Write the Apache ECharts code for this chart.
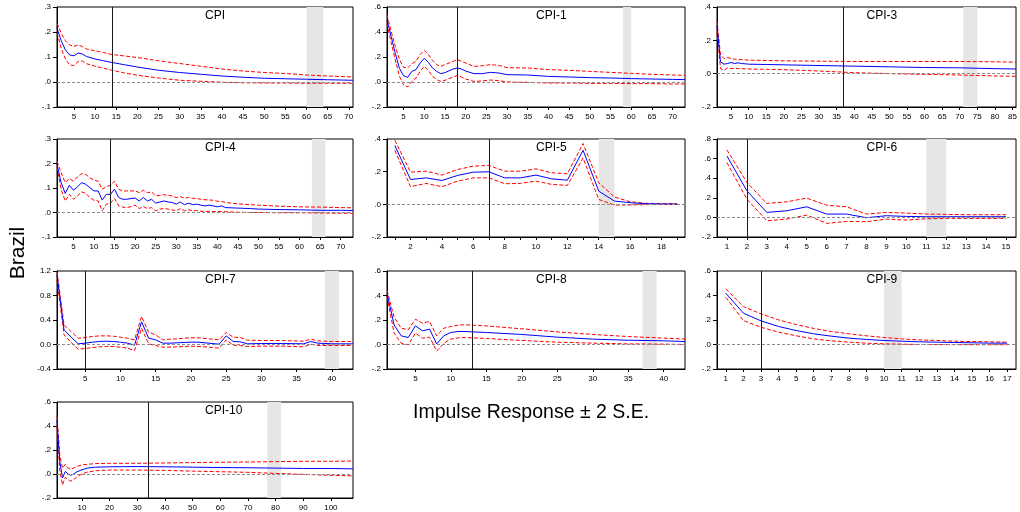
<!DOCTYPE html>
<html>
<head>
<meta charset="utf-8">
<script src="https://cdn.jsdelivr.net/npm/echarts@6/dist/echarts.min.js"></script>
<style>
  html, body { margin: 0; padding: 0; background: #fff; }
  #chart { width: 1020px; height: 512px; }
</style>
</head>
<body>
<div id="chart"></div>
<script>
// ---- CPI ----
const cpiPeriods = [1, 2, 3, 4, 5, 6, 7, 8, 10, 12, 14, 17, 20, 25, 30, 35, 40, 45, 50, 55, 60, 65, 71]
const cpiIrf = [.215, .165, .128, .108, .105, .116, .112, .102, .092, .085, .078, .069, .060, .047, .038, .031, .024, .019, .015, .013, .011, .009, .007]
const cpiHigh = [.235, .195, .165, .148, .142, .148, .142, .132, .125, .118, .110, .104, .098, .085, .074, .063, .052, .044, .038, .034, .028, .024, .020]
const cpiLow = [.197, .135, .092, .068, .066, .082, .084, .073, .063, .055, .047, .036, .027, .016, .007, .003, -.001, -.003, -.004, -.004, -.005, -.005, -.005]
const cpiXLabels = [5, 10, 15, 20, 25, 30, 35, 40, 45, 50, 55, 60, 65, 70]

// ---- CPI-1 ----
const cpi1Periods = [1, 2, 3, 4, 5, 6, 7, 8, 9, 10, 11, 12, 13, 14, 15, 16, 17, 18, 19, 20, 22, 24, 26, 28, 30, 35, 40, 45, 50, 55, 60, 65, 70, 73]
const cpi1Irf = [.50, .365, .23, .11, .05, .037, .085, .099, .152, .19, .157, .112, .085, .067, .075, .09, .104, .112, .104, .088, .067, .067, .077, .072, .059, .056, .045, .040, .035, .032, .027, .024, .021, .019]
const cpi1High = [.54, .405, .285, .18, .117, .112, .147, .165, .22, .253, .22, .173, .139, .125, .139, .152, .165, .179, .165, .152, .125, .13, .139, .133, .115, .112, .099, .093, .085, .077, .069, .061, .056, .053]
const cpi1Low = [.467, .317, .179, .045, -.024, -.04, .005, .032, .085, .125, .091, .045, .019, .005, .013, .027, .04, .051, .04, .024, .005, .008, .016, .011, 0, -.003, -.008, -.008, -.011, -.011, -.013, -.013, -.016, -.016]
const cpi1XLabels = [5, 10, 15, 20, 25, 30, 35, 40, 45, 50, 55, 60, 65, 70]

// ---- CPI-3 ----
const cpi3Periods = [1, 2, 3, 4, 5, 6, 7, 8, 10, 15, 20, 30, 40, 50, 60, 70, 80, 86]
const cpi3Irf = [.284, .071, .057, .061, .067, .061, .065, .061, .057, .055, .053, .049, .045, .041, .037, .035, .030, .028]
const cpi3High = [.315, .112, .091, .097, .091, .087, .086, .085, .081, .079, .077, .075, .073, .073, .073, .073, .071, .069]
const cpi3Low = [.254, .030, .020, .035, .030, .032, .031, .030, .028, .026, .024, .016, .006, 0, -.004, -.008, -.014, -.016]
const cpi3XLabels = [5, 10, 15, 20, 25, 30, 35, 40, 45, 50, 55, 60, 65, 70, 75, 80, 85]

// ---- CPI-4 ----
const cpi4Periods = [1, 2, 3, 4, 5, 6, 7, 8, 9, 10, 11, 12, 13, 14, 15, 16, 17, 18, 19, 20, 21, 22, 23, 24, 25, 26, 27, 28, 29, 30, 31, 32, 33, 34, 35, 36, 37, 38, 39, 40, 41, 42, 45, 48, 50, 55, 60, 65, 70, 73]
const cpi4Irf = [.196, .122, .078, .111, .091, .105, .122, .115, .101, .088, .088, .051, .074, .074, .095, .061, .054, .054, .057, .059, .047, .061, .047, .054, .038, .043, .047, .043, .041, .034, .043, .032, .038, .032, .034, .030, .027, .030, .027, .023, .027, .020, .018, .016, .014, .012, .011, .009, .009, .008]
const cpi4High = [.21, .162, .122, .138, .128, .146, .159, .155, .142, .132, .128, .095, .105, .111, .128, .095, .088, .088, .088, .088, .081, .091, .081, .084, .068, .070, .073, .070, .068, .061, .065, .058, .061, .058, .057, .054, .052, .051, .050, .046, .045, .041, .035, .032, .030, .026, .023, .022, .020, .019]
const cpi4Low = [.186, .095, .047, .074, .054, .068, .084, .078, .061, .050, .047, .007, .034, .038, .057, .027, .022, .020, .024, .030, .016, .024, .016, .020, .007, .014, .016, .014, .011, .007, .016, .007, .011, .007, .008, .005, .004, .005, .004, .004, .004, .003, .001, 0, 0, -.001, -.001, -.002, -.003, -.003]
const cpi4XLabels = [5, 10, 15, 20, 25, 30, 35, 40, 45, 50, 55, 60, 65, 70]

// ---- CPI-5 ----
const cpi5Periods = [1, 2, 3, 4, 5, 6, 7, 8, 9, 10, 11, 12, 13, 14, 15, 16, 17, 18, 19]
const cpi5Irf = [.36, .152, .162, .146, .177, .197, .199, .162, .162, .179, .156, .148, .331, .081, .02, .01, .004, .002, .002]
const cpi5High = [.392, .197, .203, .179, .213, .234, .238, .203, .203, .217, .193, .187, .372, .132, .045, .016, .006, .004, .003]
const cpi5Low = [.331, .108, .128, .108, .142, .162, .162, .126, .128, .142, .122, .116, .284, .03, -.004, -.004, -.002, 0, 0]
const cpi5XLabels = [2, 4, 6, 8, 10, 12, 14, 16, 18]

// ---- CPI-6 ----
const cpi6Periods = [1, 2, 3, 4, 5, 6, 7, 8, 9, 10, 11, 12, 13, 14, 15]
const cpi6Irf = [.627, .271, .051, .068, .108, .034, .034, -.003, .017, .01, .007, .007, .007, .007, .007]
const cpi6High = [.688, .356, .142, .159, .197, .125, .108, .034, .051, .044, .034, .031, .027, .027, .027]
const cpi6Low = [.559, .186, -.034, -.017, .024, -.061, -.041, -.044, -.017, -.027, -.014, -.010, -.010, -.010, -.010]
const cpi6XLabels = [1, 2, 3, 4, 5, 6, 7, 8, 9, 10, 11, 12, 13, 14, 15]

// ---- CPI-7 ----
const cpi7Periods = [1, 2, 3, 4, 5, 6, 7, 8, 9, 10, 11, 12, 13, 14, 15, 16, 17, 18, 19, 20, 21, 22, 23, 24, 25, 26, 27, 28, 30, 33, 36, 37, 38, 40, 43]
const cpi7Irf = [1.137, .24, .12, .011, .022, .038, .049, .054, .049, .038, .022, -.011, .37, .103, .076, .022, .022, .027, .033, .038, .038, .027, .016, .005, .141, .049, .044, .011, .016, .016, .011, .049, .022, .011, .011]
const cpi7High = [1.19, .32, .21, .103, .114, .13, .141, .141, .136, .12, .103, .076, .457, .2, .158, .076, .087, .092, .103, .109, .109, .098, .087, .076, .196, .12, .114, .071, .065, .065, .054, .087, .06, .049, .049]
const cpi7Low = [1.056, .158, .033, -.076, -.065, -.049, -.038, -.033, -.033, -.044, -.06, -.098, .267, .011, -.016, -.044, -.044, -.038, -.033, -.027, -.033, -.038, -.049, -.06, .076, -.011, -.016, -.033, -.027, -.027, -.038, .005, -.016, -.016, -.016]
const cpi7XLabels = [5, 10, 15, 20, 25, 30, 35, 40]

// ---- CPI-8 ----
const cpi8Periods = [1, 2, 3, 4, 5, 6, 7, 8, 9, 10, 11, 12, 13, 15, 20, 25, 30, 35, 40, 43]
const cpi8Irf = [.419, .16, .071, .057, .152, .112, .125, .005, .071, .098, .106, .106, .103, .098, .082, .06, .044, .035, .03, .024]
const cpi8High = [.446, .223, .133, .12, .207, .174, .188, .071, .133, .147, .158, .161, .158, .152, .128, .103, .082, .065, .052, .044]
const cpi8Low = [.392, .093, .011, -.003, .093, .052, .06, -.054, .011, .044, .054, .057, .054, .049, .033, .019, .011, .005, .003, 0]
const cpi8XLabels = [5, 10, 15, 20, 25, 30, 35, 40]

// ---- CPI-9 ----
const cpi9Periods = [1, 2, 3, 4, 5, 6, 7, 8, 9, 10, 11, 12, 13, 14, 15, 16, 17]
const cpi9Irf = [.419, .256, .193, .147, .114, .087, .068, .052, .041, .033, .027, .022, .019, .016, .014, .011, .011]
const cpi9High = [.454, .31, .25, .201, .163, .131, .106, .087, .071, .057, .046, .038, .033, .027, .024, .022, .019]
const cpi9Low = [.384, .196, .141, .101, .071, .046, .03, .019, .011, .005, .003, 0, 0, -.001, -.001, -.002, -.002]
const cpi9XLabels = [1, 2, 3, 4, 5, 6, 7, 8, 9, 10, 11, 12, 13, 14, 15, 16, 17]

// ---- CPI-10 ----
const cpi10Periods = [1, 2, 3, 4, 5, 6, 7, 8, 10, 12, 15, 20, 30, 40, 50, 60, 70, 80, 90, 100, 108]
const cpi10Irf = [.442, .103, -.033, .022, 0, -.011, 0, .016, .035, .049, .057, .06, .062, .06, .057, .054, .052, .049, .046, .046, .043]
const cpi10High = [.483, .157, .049, .081, .049, .041, .049, .062, .076, .081, .087, .089, .089, .092, .095, .098, .1, .103, .106, .106, .108]
const cpi10Low = [.401, .035, -.092, -.027, -.046, -.06, -.046, -.027, 0, .016, .027, .033, .033, .03, .024, .019, .014, .005, -.003, -.011, -.016]
const cpi10XLabels = [10, 20, 30, 40, 50, 60, 70, 80, 90, 100]

// horizon, y scale, vertical marker and shaded band for each panel
const panels = [
  { title: 'CPI', periods: cpiPeriods, irf: cpiIrf, high: cpiHigh, low: cpiLow, labels: cpiXLabels, n: 71, short: false, y: [-0.1, 0.3, 0.1], vline: 14, band: [60, 64] },
  { title: 'CPI-1', periods: cpi1Periods, irf: cpi1Irf, high: cpi1High, low: cpi1Low, labels: cpi1XLabels, n: 73, short: false, y: [-0.2, 0.6, 0.2], vline: 18, band: [58, 60] },
  { title: 'CPI-3', periods: cpi3Periods, irf: cpi3Irf, high: cpi3High, low: cpi3Low, labels: cpi3XLabels, n: 86, short: false, y: [-0.2, 0.4, 0.2], vline: 37, band: [71, 75] },
  { title: 'CPI-4', periods: cpi4Periods, irf: cpi4Irf, high: cpi4High, low: cpi4Low, labels: cpi4XLabels, n: 73, short: false, y: [-0.1, 0.3, 0.1], vline: 14, band: [63, 66.3] },
  { title: 'CPI-5', periods: cpi5Periods, irf: cpi5Irf, high: cpi5High, low: cpi5Low, labels: cpi5XLabels, n: 19, short: true, y: [-0.2, 0.4, 0.2], vline: 7, band: [14, 15] },
  { title: 'CPI-6', periods: cpi6Periods, irf: cpi6Irf, high: cpi6High, low: cpi6Low, labels: cpi6XLabels, n: 15, short: true, y: [-0.2, 0.8, 0.2], vline: 2, band: [11, 12] },
  { title: 'CPI-7', periods: cpi7Periods, irf: cpi7Irf, high: cpi7High, low: cpi7Low, labels: cpi7XLabels, n: 43, short: false, y: [-0.4, 1.2, 0.4], vline: 5, band: [39, 41], lead: true },
  { title: 'CPI-8', periods: cpi8Periods, irf: cpi8Irf, high: cpi8High, low: cpi8Low, labels: cpi8XLabels, n: 43, short: false, y: [-0.2, 0.6, 0.2], vline: 13, band: [37, 39] },
  { title: 'CPI-9', periods: cpi9Periods, irf: cpi9Irf, high: cpi9High, low: cpi9Low, labels: cpi9XLabels, n: 17, short: true, y: [-0.2, 0.6, 0.2], vline: 3, band: [10, 11] },
  { title: 'CPI-10', periods: cpi10Periods, irf: cpi10Irf, high: cpi10High, low: cpi10Low, labels: cpi10XLabels, n: 108, short: false, y: [-0.2, 0.6, 0.2], vline: 34, band: [77, 82] }
]

const colLeft = [57, 387, 717]
const colWidth = [296, 298, 299]
const rowTop = [7, 139, 271, 402]
const rowHeight = [100, 98, 98, 98]
const FONT = 'Liberation Sans, Arial, sans-serif'

const grid = []
const xAxis = []
const yAxis = []
const series = []
const graphic = []

function pairs(xs, ys) {
  return xs.map((x, i) => [x, ys[i]])
}

function yLabel(lead) {
  return v => {
    const s = (Math.round(v * 10) / 10).toFixed(1)
    if (lead) return s
    return s.replace(/^(-?)0\./, '$1.')
  }
}

panels.forEach((p, i) => {
  const row = Math.floor(i / 3)
  const col = i % 3
  const left = colLeft[col]
  const top = rowTop[row]
  const width = colWidth[col]
  const height = rowHeight[row]

  grid.push({ left, top, width, height, show: true, borderColor: '#000', borderWidth: 1, backgroundColor: 'transparent' })

  const tickValues = p.short ? p.periods.slice() : p.labels
  xAxis.push({
    type: 'value', gridIndex: i,
    min: p.short ? 0.5 : 1, max: p.short ? p.n + 0.5 : p.n,
    axisLine: { onZero: false, lineStyle: { color: '#000', width: 1 } },
    axisTick: { show: true, customValues: tickValues, length: 3, lineStyle: { color: '#000' } },
    axisLabel: { customValues: p.labels, fontSize: 8, color: '#000', margin: 6, fontFamily: FONT },
    splitLine: { show: false }
  })
  yAxis.push({
    type: 'value', gridIndex: i,
    min: p.y[0], max: p.y[1], interval: p.y[2],
    axisLine: { show: true, onZero: false, lineStyle: { color: '#000', width: 1 } },
    axisTick: { show: true, length: 4, lineStyle: { color: '#000' } },
    axisLabel: { formatter: yLabel(p.lead), fontSize: 8, color: '#000', margin: 6, fontFamily: FONT },
    splitLine: { show: false }
  })

  // shaded band + reference lines
  series.push({
    type: 'line', xAxisIndex: i, yAxisIndex: i, data: [], z: 1, silent: true,
    markArea: {
      silent: true,
      itemStyle: { color: '#e6e6e6' },
      data: [[{ xAxis: p.band[0] }, { xAxis: p.band[1] }]]
    },
    markLine: {
      silent: true, symbol: ['none', 'none'], label: { show: false },
      animation: false,
      data: [
        { yAxis: 0, lineStyle: { color: '#8c8c8c', type: [3, 2], width: 1 } },
        { xAxis: p.vline, lineStyle: { color: '#1a1a1a', type: 'solid', width: 1 } }
      ]
    }
  })

  const dashed = { color: '#ff0000', width: 1, type: [4, 2] }
  series.push({ type: 'line', xAxisIndex: i, yAxisIndex: i, data: pairs(p.periods, p.high), symbol: 'none', lineStyle: dashed, z: 3, silent: true })
  series.push({ type: 'line', xAxisIndex: i, yAxisIndex: i, data: pairs(p.periods, p.low), symbol: 'none', lineStyle: dashed, z: 3, silent: true })
  series.push({ type: 'line', xAxisIndex: i, yAxisIndex: i, data: pairs(p.periods, p.irf), symbol: 'none', lineStyle: { color: '#0000ff', width: 1 }, z: 4, silent: true })

  graphic.push({
    type: 'text', left: left + width / 2, top: top + 3, z: 10,
    style: { text: p.title, font: '12px ' + FONT, fill: '#000', textAlign: 'center' }
  })
})

graphic.push({
  type: 'text', x: 8, y: 253, rotation: Math.PI / 2, z: 10,
  style: { text: 'Brazil', font: '21px ' + FONT, fill: '#000', textAlign: 'center', textVerticalAlign: 'top' }
})
graphic.push({
  type: 'text', x: 413, y: 413, z: 10,
  style: { text: 'Impulse Response \u00b1 2 S.E.', font: '19.5px ' + FONT, fill: '#000', textAlign: 'left', textVerticalAlign: 'middle' }
})

const chart = echarts.init(document.getElementById('chart'), null, { renderer: 'canvas' })
chart.setOption({
  animation: false,
  backgroundColor: '#fff',
  grid, xAxis, yAxis, series, graphic
})
</script>
</body>
</html>
